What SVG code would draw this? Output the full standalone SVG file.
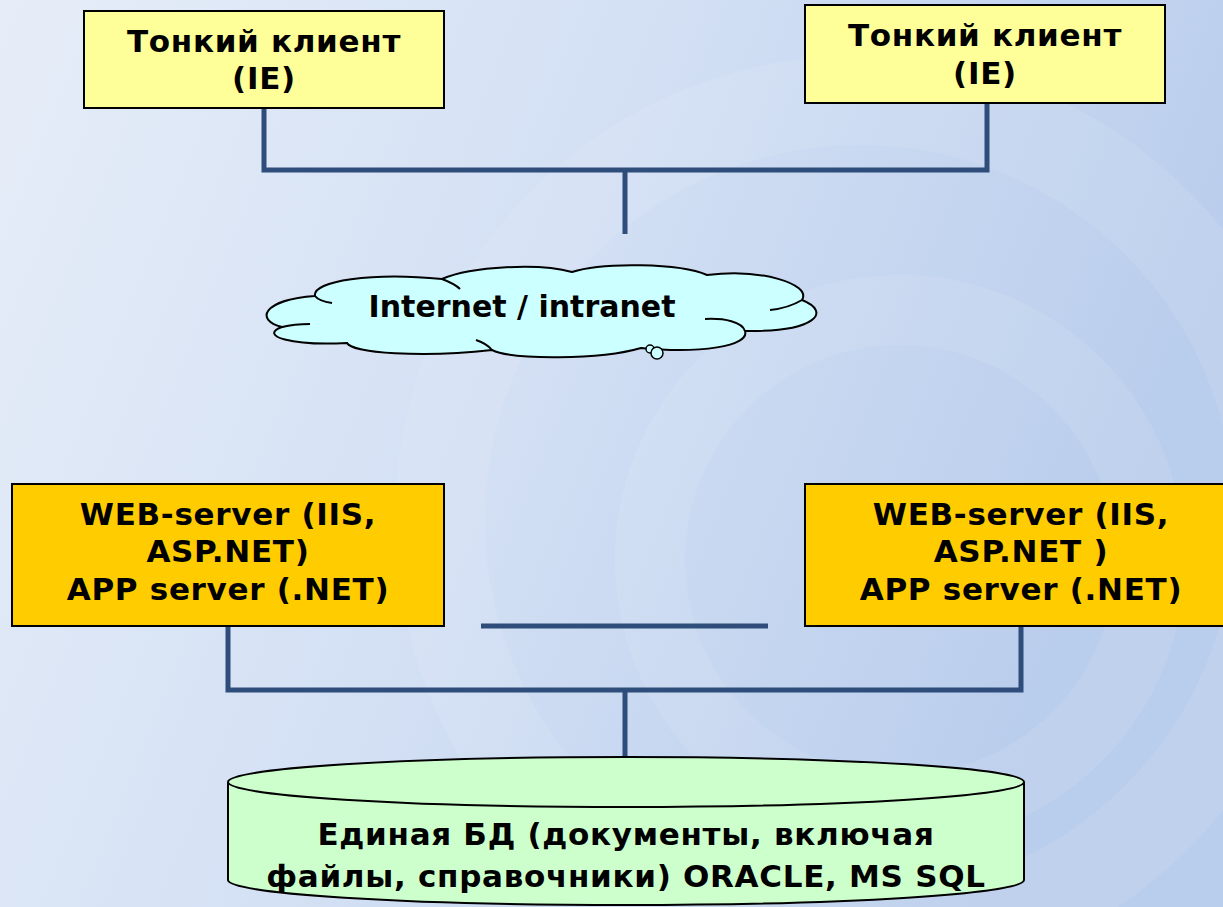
<svg xmlns="http://www.w3.org/2000/svg" width="1223" height="907" viewBox="0 0 1223 907">
  <defs>
    <linearGradient id="bg" x1="0" y1="0" x2="1" y2="0.3">
      <stop offset="0" stop-color="#e6edf8"/>
      <stop offset="0.5" stop-color="#d3e0f4"/>
      <stop offset="1" stop-color="#b9cdec"/>
    </linearGradient>
    <style>
      .t { font-family: "DejaVu Sans", Verdana, sans-serif; font-weight: bold; font-size: 31px; letter-spacing: 0.7px; fill: #000; text-anchor: middle; }
      .c { font-size: 30px; letter-spacing: 0; }
      .wire { stroke: #2e4d7b; stroke-width: 5; fill: none; }
      .box { stroke: #000; stroke-width: 2; }
      .swirl { fill: none; stroke: #ffffff; stroke-opacity: 0.09; }
      .cl { fill: none; stroke: #000; stroke-width: 2; }
    </style>
  </defs>
  <rect width="1223" height="907" fill="url(#bg)"/>
  <g id="background-swirl">
    <circle class="swirl" cx="860" cy="520" r="420" stroke-width="90"/>
    <circle class="swirl" cx="900" cy="560" r="250" stroke-width="70"/>
  </g>

  <g id="connectors">
    <polyline class="wire" points="264,108 264,170 987,170 987,103"/>
    <line class="wire" x1="625" y1="170" x2="625" y2="234"/>
    <line class="wire" x1="481" y1="626" x2="768" y2="626" stroke-width="7"/>
    <polyline class="wire" points="228,626 228,690 1021,690 1021,626"/>
    <line class="wire" x1="625" y1="690" x2="625" y2="757"/>
  </g>

  <g id="client-left">
    <rect class="box" x="84" y="11" width="360" height="97" fill="#ffff99"/>
    <text class="t" x="264" y="52">Тонкий клиент</text>
    <text class="t" x="264" y="89">(IE)</text>
  </g>
  <g id="client-right">
    <rect class="box" x="805" y="5" width="360" height="98" fill="#ffff99"/>
    <text class="t" x="985" y="46">Тонкий клиент</text>
    <text class="t" x="985" y="84">(IE)</text>
  </g>

  <g id="cloud">
    <path d="M 282,327 C 255,320 262,300 315,296 C 312,281 372,272 442,279 C 472,266 540,263 572,272 C 602,262 680,263 707,275 C 760,268 812,284 802,300 C 832,312 816,332 745,331 C 750,346 700,354 641,348 C 600,360 512,360 492,350 C 422,358 352,353 347,343 C 292,346 258,336 282,327 Z" fill="#ccffff" stroke="#000" stroke-width="2"/>
    <path class="cl" d="M 315,296 C 318,300 325,302 332,303"/>
    <path class="cl" d="M 282,327 C 290,325 300,324 310,324"/>
    <path class="cl" d="M 442,279 C 450,282 456,285 460,289"/>
    <path class="cl" d="M 802,300 C 792,306 780,309 770,310"/>
    <path class="cl" d="M 745,331 C 742,322 725,318 705,319"/>
    <path class="cl" d="M 492,350 C 488,345 482,342 476,340"/>
    <circle cx="650" cy="349" r="4" fill="#ccffff" stroke="#000" stroke-width="1.5"/>
    <circle cx="657" cy="353" r="6" fill="#ccffff" stroke="#000" stroke-width="1.5"/>
    <text class="t c" x="522" y="317">Internet / intranet</text>
  </g>

  <g id="server-left">
    <rect class="box" x="12" y="484" width="432" height="142" fill="#ffcc00"/>
    <text class="t" x="228" y="525">WEB-server (IIS,</text>
    <text class="t" x="228" y="562">ASP.NET)</text>
    <text class="t" x="228" y="600">APP server (.NET)</text>
  </g>
  <g id="server-right">
    <rect class="box" x="805" y="484" width="430" height="142" fill="#ffcc00"/>
    <text class="t" x="1021" y="525">WEB-server (IIS,</text>
    <text class="t" x="1021" y="562">ASP.NET )</text>
    <text class="t" x="1021" y="600">APP server (.NET)</text>
  </g>

  <g id="database">
    <path d="M 228,782 L 228,880 A 398,25 0 0 0 1024,880 L 1024,782" fill="#ccffcc" stroke="#000" stroke-width="2"/>
    <ellipse cx="626" cy="782" rx="398" ry="25" fill="#ccffcc" stroke="#000" stroke-width="2"/>
    <text class="t" x="626" y="845">Единая БД (документы, включая</text>
    <text class="t" x="626" y="887">файлы, справочники) ORACLE, MS SQL</text>
  </g>
</svg>
